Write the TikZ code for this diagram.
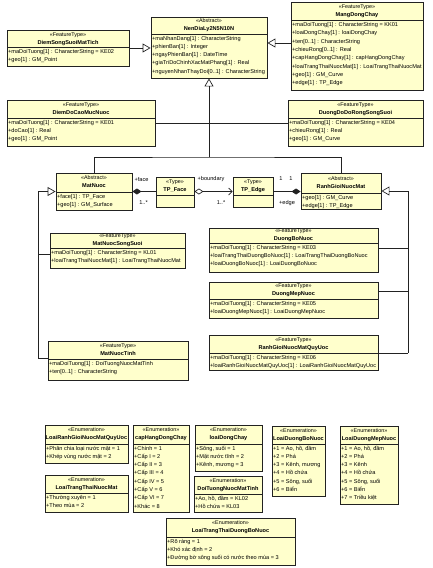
\documentclass[tikz,border=0pt]{standalone}
\usepackage{fontspec}
\setmainfont{Liberation Sans}
\usetikzlibrary{arrows.meta,fit}
\definecolor{umlfill}{HTML}{FFFFCC}
\definecolor{umlline}{HTML}{222222}
\tikzset{
  clsbox/.style={draw=umlline, fill=umlfill, line width=0.9pt, inner sep=0pt},
  sepline/.style={draw=umlline, line width=0.8pt},
  stereo/.style={inner sep=0pt, font=\fontsize{5.4}{6}\selectfont, text height=3.9pt, text depth=1.2pt},
  ctitle/.style={inner sep=0pt, font=\fontsize{5.6}{6}\selectfont\bfseries, text height=4pt, text depth=1.2pt},
  attr/.style={anchor=west, inner xsep=1pt, inner ysep=0pt, font=\fontsize{5.6}{6}\selectfont, text height=4pt, text depth=1.2pt},
  lbl/.style={inner sep=0pt, font=\fontsize{5.6}{6}\selectfont},
  conn/.style={draw=umlline, line width=0.7pt},
  gen/.style={conn, -{Triangle[open, length=8pt, width=9pt]}},
  comp/.style={conn, {Diamond[length=9pt, width=6pt]}-},
  aggr/.style={conn, {Diamond[open, length=9pt, width=6pt]}-{Straight Barb[length=3.5pt, width=7pt]}},
}
\newcommand\umlcls[9]{%
  \node[clsbox, fit={(#2,#3) (#4,#5)}] (#1) {};
  \draw[sepline] (#2,#6) -- (#4,#6);
  \node[stereo] (#1-s) at ({(#2+#4)/2},{(#3+#6)/2-4}) {«#7»};
  \node[ctitle] (#1-t) at ({(#2+#4)/2},{(#3+#6)/2+4}) {#8};
  \foreach \t [count=\i] in {#9} {\node[attr] (#1-a\i) at (#2,{#6+4.6+(\i-1)*8.3}) {\t};}%
}
\newcommand\umlempty[8]{%
  \node[clsbox, fit={(#2,#3) (#4,#5)}] (#1) {};
  \draw[sepline] (#2,#6) -- (#4,#6);
  \node[stereo] (#1-s) at ({(#2+#4)/2},{(#3+#6)/2-4}) {«#7»};
  \node[ctitle] (#1-t) at ({(#2+#4)/2},{(#3+#6)/2+4}) {#8};
}
\begin{document}
\begin{tikzpicture}[x=1pt,y=-1pt]
\fill[white] (0,0) rectangle (432,568);
\useasboundingbox (0,0) rectangle (432,568);

% classes
\umlcls{dssmt}{7}{30}{129}{66}{47.5}{FeatureType}{DiemSongSuoiMatTich}
  {{+maDoiTuong[1] : CharacterString = KE02},{+geo[1] : GM\_Point}}
\umlcls{ndl}{151}{17}{267}{78}{34}{Abstract}{NenDiaLy2N5N10N}
  {{+maNhanDang[1] : CharacterString},{+phienBan[1] : Integer},{+ngayPhienBan[1] : DateTime},{+giaTriDoChinhXacMatPhang[1] : Real},{+nguyenNhanThayDoi[0..1] : CharacterString}}
\umlcls{mdc}{291}{2}{423}{90}{20.5}{FeatureType}{MangDongChay}
  {{+maDoiTuong[1] : CharacterString = KK01},{+loaiDongChay[1] : loaiDongChay},{+ten[0..1] : CharacterString},{+chieuRong[0..1] : Real},{+capHangDongChay[1] : capHangDongChay},{+loaiTrangThaiNuocMat[1] : LoaiTrangThaiNuocMat},{+geo[1] : GM\_Curve},{+edge[1] : TP\_Edge}}
\umlcls{ddcmn}{7}{100}{155}{146}{118}{FeatureType}{DiemDoCaoMucNuoc}
  {{+maDoiTuong[1] : CharacterString = KE01},{+doCao[1] : Real},{+geo[1] : GM\_Point}}
\umlcls{dddrss}{288}{100}{423}{146}{118}{FeatureType}{DuongDoDoRongSongSuoi}
  {{+maDoiTuong[1] : CharacterString = KE04},{+chieuRong[1] : Real},{+geo[1] : GM\_Curve}}
\umlcls{mn}{56}{173}{132}{210}{192}{Abstract}{MatNuoc}
  {{+face[1] : TP\_Face},{+geo[1] : GM\_Surface}}
\umlempty{tpf}{156}{177}{194}{207}{195}{Type}{TP\_Face}
\umlempty{tpe}{233}{177}{273}{207}{195}{Type}{TP\_Edge}
\umlcls{rgnm}{301}{173}{381}{209}{193}{Abstract}{RanhGioiNuocMat}
  {{+geo[1] : GM\_Curve},{+edge[1] : TP\_Edge}}
\umlcls{mnss}{50}{233}{185}{268}{248}{FeatureType}{MatNuocSongSuoi}
  {{+maDoiTuong[1] : CharacterString = KL01},{+loaiTrangThaiNuocMat[1] : LoaiTrangThaiNuocMat}}
\umlcls{dbn}{209}{228}{378}{272}{243}{FeatureType}{DuongBoNuoc}
  {{+maDoiTuong[1] : CharacterString = KE03},{+loaiTrangThaiDuongBoNuoc[1] : LoaiTrangThaiDuongBoNuoc},{+loaiDuongBoNuoc[1] : LoaiDuongBoNuoc}}
\umlcls{dmn}{209}{282}{378}{318}{299}{FeatureType}{DuongMepNuoc}
  {{+maDoiTuong[1] : CharacterString = KE05},{+loaiDuongMepNuoc[1] : LoaiDuongMepNuoc}}
\umlcls{rgq}{209}{335}{378}{370}{353}{FeatureType}{RanhGioiNuocMatQuyUoc}
  {{+maDoiTuong[1] : CharacterString = KE06},{+loaiRanhGioiNuocMatQuyUoc[1] : LoaiRanhGioiNuocMatQuyUoc}}
\umlcls{mnt}{48}{341}{188}{380}{359}{FeatureType}{MatNuocTinh}
  {{+maDoiTuong[1] : DoiTuongNuocMatTinh},{+ten[0..1] : CharacterString}}

% enumerations
\umlcls{e1}{45}{425}{128}{463}{444}{Enumeration}{LoaiRanhGioiNuocMatQuyUoc}
  {{+Phân chia loại nước mặt = 1},{+Khép vùng nước mặt = 2}}
\umlcls{e2}{45}{475}{128}{512}{493}{Enumeration}{LoaiTrangThaiNuocMat}
  {{+Thường xuyên = 1},{+Theo mùa = 2}}
\umlcls{e3}{133}{425}{189}{512}{444}{Enumeration}{capHangDongChay}
  {{+Chính = 1},{+Cấp I = 2},{+Cấp II = 3},{+Cấp III = 4},{+Cấp IV = 5},{+Cấp V = 6},{+Cấp VI = 7},{+Khác = 8}}
\umlcls{e4}{195}{425}{262}{471}{444}{Enumeration}{loaiDongChay}
  {{+Sông, suối = 1},{+Mặt nước tĩnh = 2},{+Kênh, mương = 3}}
\umlcls{e5}{194}{476}{262}{512}{494}{Enumeration}{DoiTuongNuocMatTinh}
  {{+Ao, hồ, đầm = KL02},{+Hồ chứa = KL03}}
\umlcls{e6}{272}{426}{325}{496}{444}{Enumeration}{LoaiDuongBoNuoc}
  {{+1 = Ao, hồ, đầm},{+2 = Phá},{+3 = Kênh, mương},{+4 = Hồ chứa},{+5 = Sông, suối},{+6 = Biển}}
\umlcls{e7}{340}{426}{398}{504}{444}{Enumeration}{LoaiDuongMepNuoc}
  {{+1 = Ao, hồ, đầm},{+2 = Phá},{+3 = Kênh},{+4 = Hồ chứa},{+5 = Sông, suối},{+6 = Biển},{+7 = Triều kiệt}}
\umlcls{e8}{166}{518}{295}{565}{537}{Enumeration}{LoaiTrangThaiDuongBoNuoc}
  {{+Rõ ràng = 1},{+Khó xác định = 2},{+Đường bờ sông suối có nước theo mùa = 3}}

% junction coordinates
\coordinate (ym) at (0,43);
\coordinate (tb) at (209,157);
\coordinate (lx) at (38,0);
\coordinate (yss) at (0,254);
\coordinate (ytn) at (0,358);
\coordinate (rx) at (408,0);
\coordinate (ybn) at (0,248);
\coordinate (ymn) at (0,291);
\coordinate (yq) at (0,353);

% generalizations to NenDiaLy
\draw[gen] (dssmt.east) -- (ndl.west |- dssmt.east);
\draw[gen] (mdc.west |- ym) -- (ndl.east |- ym);
\draw[gen] (tb) -- (ndl.south);
\draw[conn] (ddcmn.east) -- (ddcmn.east -| tb);
\draw[conn] (dddrss.west) -- (dddrss.west -| tb);
\draw[conn] (mn.north) |- (tb) -| (rgnm.north);

% generalizations to MatNuoc
\draw[gen] (mn.west -| lx) -- (mn.west);
\draw[conn] (mn.west -| lx) -- (lx |- ytn);
\draw[conn] (mnss.west |- yss) -- (lx |- yss);
\draw[conn] (mnt.west |- ytn) -- (lx |- ytn);

% generalizations to RanhGioiNuocMat
\draw[gen] (rgnm.east -| rx) -- (rgnm.east);
\draw[conn] (rgnm.east -| rx) -- (rx |- yq);
\draw[conn] (dbn.east |- ybn) -- (rx |- ybn);
\draw[conn] (dmn.east |- ymn) -- (rx |- ymn);
\draw[conn] (rgq.east |- yq) -- (rx |- yq);

% topology associations
\draw[comp] (mn.east) -- (tpf.west |- mn.east);
\draw[aggr] (tpf.east |- mn.east) -- (tpe.west |- mn.east);
\draw[comp] (rgnm.west |- mn.east) -- (tpe.east |- mn.east);

\node[lbl] (lface) at (141.5,179) {+face};
\node[lbl] (lfm) at (143.5,203) {1..*};
\node[lbl] (lbnd) at (211,179) {+boundary};
\node[lbl] (lbm) at (221,203) {1..*};
\node[lbl] (le1) at (281,179) {1};
\node[lbl] (le2) at (291,179) {1};
\node[lbl] (ledge) at (287,203) {+edge};
\end{tikzpicture}
\end{document}
